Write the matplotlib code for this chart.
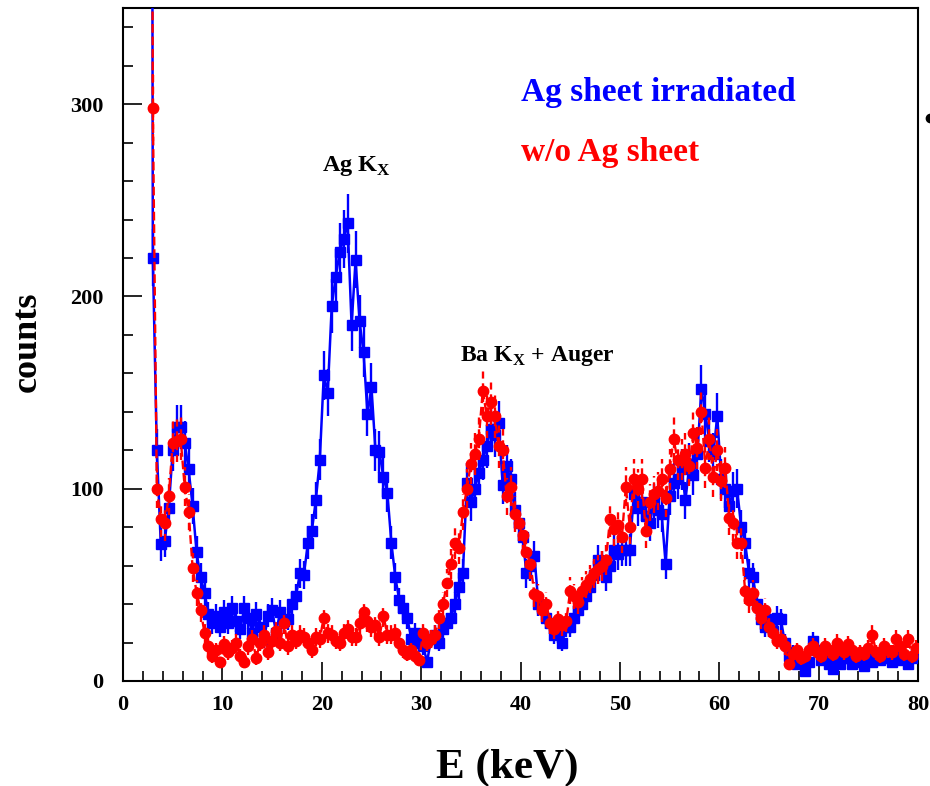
import numpy as np
import matplotlib
matplotlib.use('Agg')
import matplotlib.pyplot as plt
from matplotlib.lines import Line2D

"""
Ag K x-ray spectrum: irradiated Ag sheet vs. no sheet
bins: 0.4 keV, centres from 2.6 keV
"""

E_FIRST = 2.6
BIN_WIDTH = 0.4

counts_ag = [
    1500, 220, 120, 71, 73, 90, 120, 132, 132, 124,
    110, 91, 67, 54, 46, 35, 30, 34, 28, 36,
    30, 38, 31, 27, 38, 33, 25, 35, 28, 22,
    34, 37, 25, 36, 31, 32, 40, 44, 56, 55,
    72, 78, 94, 115, 159, 150, 195, 210, 223, 230,
    238, 185, 219, 187, 171, 139, 153, 120, 119, 106,
    98, 72, 54, 42, 38, 33, 22, 25, 20, 18,
    10, 22, 24, 20, 27, 30, 33, 40, 49, 56,
    103, 93, 100, 108, 115, 122, 131, 128, 134, 102,
    112, 105, 89, 82, 75, 56, 60, 65, 40, 38,
    33, 30, 24, 25, 20, 28, 28, 33, 37, 40,
    44, 49, 55, 63, 60, 54, 60, 68, 66, 68,
    68, 68, 97, 90, 93, 86, 82, 93, 89, 87,
    61, 96, 103, 105, 110, 94, 113, 107, 118, 152,
    139, 125, 118, 138, 105, 100, 91, 99, 100, 80,
    72, 56, 54, 40, 32, 28, 32, 26, 33, 32,
    20, 13, 15, 9, 12, 5, 10, 21, 16, 11,
    14, 9, 6, 12, 9, 14, 12, 9, 13, 10,
    8, 12, 10, 14, 11, 13, 12, 10, 13, 11,
    12, 9, 12, 14,
]

counts_noag = [
    1000, 298, 100, 84, 82, 96, 124, 125, 126, 101,
    88, 59, 46, 37, 25, 18, 13, 16, 10, 19,
    15, 17, 20, 13, 10, 18, 22, 12, 20, 24,
    15, 21, 26, 20, 30, 18, 24, 21, 24, 23,
    20, 16, 23, 22, 33, 25, 24, 21, 20, 25,
    27, 23, 23, 30, 36, 31, 28, 29, 23, 34,
    24, 24, 25, 20, 16, 14, 16, 13, 11, 25,
    20, 22, 24, 33, 40, 51, 61, 72, 69, 88,
    100, 113, 118, 126, 151, 138, 145, 138, 122, 120,
    96, 101, 87, 82, 76, 67, 61, 45, 44, 37,
    40, 30, 27, 32, 29, 31, 47, 44, 41, 47,
    50, 53, 56, 58, 60, 63, 84, 79, 81, 75,
    101, 80, 105, 100, 105, 78, 93, 97, 99, 105,
    95, 110, 126, 115, 115, 118, 112, 129, 121, 140,
    111, 126, 106, 120, 104, 111, 85, 82, 72, 72,
    47, 42, 46, 38, 33, 37, 28, 25, 21, 22,
    18, 9, 14, 16, 12, 13, 16, 18, 15, 13,
    18, 16, 14, 20, 17, 15, 19, 16, 13, 15,
    14, 17, 24, 15, 13, 18, 16, 15, 22, 18,
    14, 22, 13, 17,
]

series_labels = ['Ag sheet irradiated', 'w/o Ag sheet']
peak_labels = [r'Ag K$_{\mathbf{X}}$', r'Ba K$_{\mathbf{X}}$ + Auger']

x_ticks = [0, 10, 20, 30, 40, 50, 60, 70, 80]
y_ticks = [0, 100, 200, 300]

plt.rcParams['font.family'] = ['Liberation Serif', 'DejaVu Serif']
plt.rcParams['font.weight'] = 'bold'
plt.rcParams['mathtext.fontset'] = 'custom'
plt.rcParams['mathtext.rm'] = 'Liberation Serif:bold'
plt.rcParams['mathtext.bf'] = 'Liberation Serif:bold'

energy = np.round(E_FIRST + BIN_WIDTH * np.arange(len(counts_ag)), 2)
y_ag = np.array(counts_ag, dtype=float)
y_noag = np.array(counts_noag, dtype=float)

fig = plt.figure(figsize=(9.3, 7.86), dpi=100)
ax = fig.add_axes([0.1323, 0.1336, 0.8548, 0.8562])

eb_ag = ax.errorbar(energy, y_ag, yerr=np.sqrt(y_ag), fmt='s-', color='#0000ff',
                    ms=7.5, lw=1.8, elinewidth=1.7, capsize=0, zorder=3)
eb_noag = ax.errorbar(energy, y_noag, yerr=np.sqrt(y_noag), fmt='o--', color='#ff0000',
                      ms=7.5, lw=1.7, elinewidth=1.7, capsize=0, zorder=4)
eb_noag[2][0].set_linestyle((0, (3, 2)))

ax.set_xlim(0, 80)
ax.set_ylim(0, 350)
ax.set_xticks(x_ticks)
ax.set_yticks(y_ticks)
ax.set_xticks(np.arange(0, 81, 2), minor=True)
ax.set_yticks(np.arange(0, 351, 20), minor=True)
ax.tick_params(which='both', direction='in', width=1.2, top=False, right=False)
ax.tick_params(which='major', length=14, labelsize=16)
ax.tick_params(axis='x', which='major', pad=10)
ax.tick_params(axis='y', which='major', pad=14)
ax.tick_params(which='minor', length=7)
for lab in ax.get_xticklabels() + ax.get_yticklabels():
    lab.set_fontweight('bold')
for sp in ax.spines.values():
    sp.set_linewidth(1.5)

ax.text(40.0, 306, series_labels[0], color='#0000ff', fontsize=24,
        fontweight='bold', va='center', ha='left')
ax.text(40.0, 275, series_labels[1], color='#ff0000', fontsize=24,
        fontweight='bold', va='center', ha='left')
ax.text(20.0, 268, peak_labels[0], fontsize=17.5, va='center', ha='left')
ax.text(33.9, 169, peak_labels[1], fontsize=17, va='center', ha='left')

fig.text(0.545, 0.023, 'E (keV)', fontsize=31, fontweight='bold', ha='center', va='center')
fig.text(0.029, 0.565, 'counts', fontsize=26, fontweight='bold', rotation=90,
         ha='center', va='center')

# stray mark at the right edge of the original picture
fig.add_artist(Line2D([0.9995], [0.85], marker='o', ms=6, color='black',
                      transform=fig.transFigure))

fig.savefig('out.png', dpi=100)
